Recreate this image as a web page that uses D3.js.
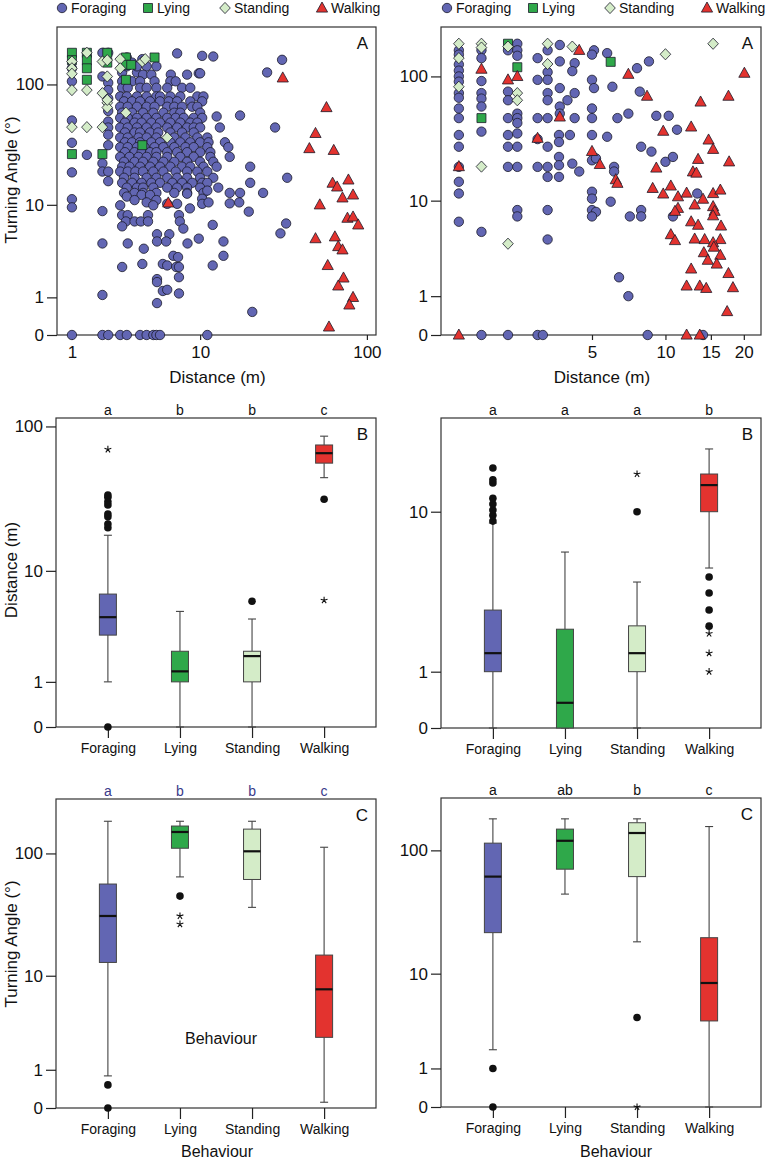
<!DOCTYPE html>
<html>
<head>
<meta charset="utf-8">
<script src="https://cdn.jsdelivr.net/npm/d3@7"></script>
<style>
  body { margin: 0; background: #fff; }
  svg { display: block; font-family: "Liberation Sans", Arial, sans-serif; }
</style>
</head>
<body>
<svg id="fig" width="766" height="1159"></svg>
<script>
// ── Data ─────────────────────────────────────────────────────────
const behaviours = ['Foraging', 'Lying', 'Standing', 'Walking'];

// Panel A (left): [distance m, turning angle deg]
const forageA1 = [
  [1,135],[1,106],[1,51],[1,33.5],[1,19],[1,11.2],[1,9.5],[1,0],[1.44,26.6],
  [2,180],[2.24,180],[2,116],[2.24,103],[2.24,90],[2.24,77],[2.24,61],[2.24,50],[2.24,44.7],[2.24,39],
  [2.24,32],[2,22.6],[2,19.3],[2.24,19.3],[2.24,16],[2,8.8],[2,4.4],[2,1.09],[2,0],[2.24,0],
  [3.15,165],[3.45,150],[4.1,160],[3.75,125],[2.9,125],[7.1,178],[10.3,170],[12.1,168],[31.7,158],[25.8,125],[9.8,123],
  [3.15,140],[3.75,140],[4.4,140],[5.15,140],
  [4.15,120],[4.75,120],[6.45,120],[8.25,120],[10,123],
  [2.9,106],[3.45,106],[3.95,106],[5,106],[6.4,106],[6.95,106],
  [2.9,94],[3.2,94],[3.95,94],[4.4,94],[5.15,94],[6.1,94],[7.65,94],[8.65,94],
  [2.8,80],[3.15,80],[3.75,80],[4.4,80],[5.15,80],[5.45,80],[6.4,80],[7.45,80],[9.6,80],[10.5,80],
  [3,73],[3.45,73],[3.95,73],[4.65,73],[5.45,73],[6.25,73],[7.1,73],[8.65,73],[10.3,73],
  [2.8,66],[3.2,66],[3.75,66],[4.4,66],[5,66],[6.1,66],[6.8,66],[7.65,66],[8.9,66],[9.6,66],
  [2.9,59],[3.45,59],[4.15,59],[4.9,59],[5.75,59],[6.8,59],[7.45,59],[10,59],[12.7,55],[17.7,56],
  [2.8,53.6],[3.2,53.6],[3.75,53.6],[4.4,53.6],[5.15,53.6],[6.1,53.6],[6.95,53.6],[7.85,53.6],[9.1,53.6],[10.3,53.6],
  [3.05,49],[3.6,49],[4.05,49],[4.75,49],[5.45,49],[6.4,49],[7.45,49],[8.65,49],[9.6,49],
  [2.8,44.7],[3.2,44.7],[3.75,44.7],[4.4,44.7],[5.15,44.7],[6.1,44.7],[7.1,44.7],[8.25,44.7],[9.1,44.7],[10,44.7],[13.3,44.7],[28.8,44.7],
  [3.05,40.7],[3.6,40.7],[3.95,40.7],[4.65,40.7],[5.3,40.7],[6.4,40.7],[7.65,40.7],[9.1,40.7],
  [2.8,37],[3.2,37],[3.85,37],[4.4,37],[5.15,37],[6.8,37],[8.05,37],[9.6,37],[11.1,37],
  [3.05,33.8],[3.45,33.8],[3.95,33.8],[4.75,33.8],[5.45,33.8],[6.4,33.8],[7.45,33.8],[8.65,33.8],[10,33.8],[11.3,33.8],[14.3,33.8],
  [2.8,30.8],[3.2,30.8],[3.75,30.8],[4.25,30.8],[5,30.8],[5.75,30.8],[6.8,30.8],[8.05,30.8],[9.1,30.8],[11.1,30.8],[15,30.8],
  [3.05,28],[3.6,28],[4.05,28],[4.65,28],[5.15,28],[6.1,28],[7.1,28],[8.25,28],[10,28],[11.6,28],
  [2.8,25.6],[3.3,25.6],[3.85,25.6],[4.4,25.6],[5.15,25.6],[6.1,25.6],[7.45,25.6],[9.1,25.6],[11.6,25.6],[15.3,25.6],
  [3,23.3],[3.6,23.3],[4.15,23.3],[4.9,23.3],[5.75,23.3],[6.8,23.3],[8.25,23.3],[10,23.3],[12.1,23.3],
  [2.9,21.2],[3.3,21.2],[3.95,21.2],[4.65,21.2],[5.45,21.2],[6.4,21.2],[7.65,21.2],[8.65,21.2],[10.5,21.2],[12.7,21.2],[20.4,21.2],
  [2.8,19.3],[3.2,19.3],[3.65,19.3],[4.15,19.3],[4.9,19.3],[5.75,19.3],[6.95,19.3],[8.25,19.3],[9.6,19.3],[11.1,19.3],
  [3,17.1],[3.6,17.1],[4.4,17.1],[5.15,17.1],[6.1,17.1],[7.1,17.1],[8.25,17.1],[10,17.1],[12.1,17.1],[34,17.1],
  [2.9,15.5],[3.45,15.5],[4.05,15.5],[4.75,15.5],[5.45,15.5],[6.6,15.5],[7.65,15.5],[8.9,15.5],[10.3,15.5],[11.1,15.5],[20.4,15.5],
  [3.15,14.1],[3.75,14.1],[4.15,14.1],[4.9,14.1],[6.1,14.1],[7.1,14.1],[8.25,14.1],[10,14.1],[13,14.1],
  [3,12.7],[3.6,12.7],[4.15,12.7],[5.15,12.7],[6.8,12.7],[8.25,12.7],[10.5,12.7],[15.3,12.7],[17.7,12.7],[24.4,12.7],
  [3.15,11.8],[4.05,12.2],[4.65,12.2],[8.25,12.5],[10.3,11.3],[11.1,13.3],
  [3.6,11],[5.15,11],[4.4,10.5],
  [2.8,9.9],[4.9,9.9],[6.1,10.2],[7.1,10.2],[10.3,10.2],[11.3,10.5],[15.3,10.3],[17.5,10.5],
  [2.9,8.1],[3.2,8.1],[4.5,8.1],[7.3,8.1],[8.6,9.3],[20,8.7],
  [3.1,7.1],[3.6,7.1],[4,7.1],[4.5,7.1],[2.9,6.4],[7.4,7.1],[7.8,6.1],[12,6.6],[33.5,6.8],[31,5.5],
  [5.2,5.4],[5.2,4.6],[6.3,5.4],[6,4.6],[9.8,4.9],[3.2,4.4],[8.3,4.4],[14,4.6],[4.2,3.9],
  [6.7,3.3],[7.2,3.2],[14,3.3],[4.1,2.7],[2.9,2.5],[5.7,2.7],[6.1,2.6],[7,2.5],[7.3,2.5],[12,2.6],
  [7.3,1.9],[5.2,1.8],[5.2,1.65],[5.7,1.25],[6.1,1.3],[7.3,1.15],[5.2,0.8],[21,0.53],
  [2.8,0],[3.15,0],[3.95,0],[4.4,0],[4.9,0],[5.15,0],[5.45,0],[11.1,0]
];
const lyingA1 = [
  [1,180],[1,157],[1.44,180],[1.44,157],[1.44,135],[1.44,109],[1,27],[2,27],
  [2.2,180],[2.2,150],[3.1,165],[3.1,144],[3.4,144],[4.1,32],[5,165],[3.1,109]
];
const standingA1 = [
  [1.44,180],[1,153],[1,135],[1,122],[1,90],[1.44,90],[2,153],[2.2,157],[2,85],[2.2,116],
  [2.2,71],[2.2,65],[2.8,160],[2.8,135],[3.1,59],[4.1,153],[4.3,160],[1,45],[1.44,45],[2,45],[6.1,37],[2.2,75]
];
const walkingA1 = [
  [32,113],[58,65],[50,40],[46,30],[64,29],[78,16.4],[63,15.4],[67,14.3],[83,12.2],[72,11.5],
  [53,10],[77,7.6],[83,7.8],[89,6.6],[50,4.9],[65,5.1],[68,4.1],[72,3.8],[59,2.6],[73,1.86],
  [68,1.47],[83,1.0],[79,0.74],[60,0.16],[6.2,10.4]
];

// Panel A (right)
const forageA2 = [
  [1,160],[1,148],[1,124],[1,111],[1,100],[1,91],[1,74],[1,68],[1,56],[1,47],[1,34.5],[1,27.8],[1,19.1],[1,14.4],[1,11.5],[1,6.55],
  [1.41,160],[1.41,139],[1.41,92],[1.41,74],[1.41,67],[1.41,58],[1.41,36.7],[1.41,5.3],[1.41,0],
  [2,160],[2,76],[2,65],[2,47],[2,34.5],[2,27.8],[2,19.1],[2,0],
  [2.24,180],[2.24,160],[2.24,145],[2.24,51],[2.24,47],[2.24,43],[2.24,35.5],[2.24,27.8],[2.24,19.1],[2.24,8.3],[2.24,7.3],
  [2.83,139],[2.83,94],[2.83,47],[2.83,32],[2.83,19.1],[2.83,0],
  [3.16,160],[3.16,108],[3.16,94],[3.16,74],[3.16,65],[3.16,47],[3.16,27.8],[3.16,19.1],[3.16,15.8],[3.16,8.3],[3.16,4.5],[3,0],
  [3.6,176],[3.6,131],[3.6,81],[3.6,58],[3.6,51],[3.57,34.5],[3.57,30.3],[3.57,23],[3.57,19.7],[3.57,15.8],
  [4.2,127],[4.1,110],[4.2,74],[3.9,65],[4.2,47],[4,34.5],[4.1,20.3],[4.4,17.5],
  [5.1,160],[5,148],[5,94],[5.1,81],[5,56],[5,47],[5,34.5],[5,21.6],[5.2,22.4],[5,11.9],[5,10.4],[5,8.3],[5.2,8],[5,7.3],
  [5.8,152],[5.8,33.4],[6,9.8],[6.1,83],[6.4,47],[6.2,19.1],[6.2,17.5],[6.5,1.8],
  [7.1,51],[7.1,1],[7.2,7.3],[7.7,116],[7.9,76],[8,27.8],[8,8.3],[8,7.3],[8.6,131],[8.8,25.4],[8.5,0],
  [9.2,49],[10.3,49],[10,21],[10.7,23],[10.7,7.3],[11.1,38],[13.3,11.5],[14,0]
];
const lyingA2 = [[2,180],[2.24,118],[1.41,47],[6,130]];
const standingA2 = [
  [1,180],[1,139],[1,83],[1.41,180],[1.41,168],[1.41,19.2],[2,171],[2.24,74],[2.24,65],
  [3.16,180],[3.16,125],[4.1,171],[2,4.1],[10,149],[15.3,180]
];
const walkingA2 = [
  [1,19.2],[1.41,114],[2,94],[2.24,100],[2.83,32.5],[3.6,48],[4.4,160],[5,25.5],[5.4,20],[6.3,15],
  [7.1,104],[8.45,70],[9.8,37],[9.2,18.7],[12.6,40],[13.7,63],[14.7,31.5],[15.3,26.5],[13.4,22],[12.8,17.4],
  [13.2,17],[17.6,21],[17.5,70],[20.1,106],
  [6.4,14],[8.9,12.7],[9.8,11.4],[10.5,13.3],[11.2,10.8],[12.1,11.6],[14,10.3],[15.3,11.5],[16.3,12.3],
  [11.2,8.6],[10.9,8.1],[13,9.2],[15.3,8.9],[15.5,8.1],[15.3,7.4],[12.6,6.55],[13.4,6.1],[16.4,6],
  [10.5,5],[10.9,4.4],[13,4.55],[14.2,4.5],[16.3,4.5],[15.3,4.2],[15.4,3.8],[14.1,3.35],[16.3,3.15],
  [14.6,2.8],[15.8,2.55],[12.6,2.25],[17.5,2],[12.1,1.4],[13.6,1.4],[14.4,1.3],[18.2,1.33],[17.3,0.52],
  [1,0],[12.1,0],[13.6,0]
];

// Box statistics per behaviour: [lower whisker, Q1, median, Q3, upper whisker]
const distBoxL = [[1,3.1,4.4,6.7,18],[0,1,1.35,2.2,4.9],[0,1,1.97,2.2,4.25],[45,56.5,66,75,86]];
const distBoxR = [[0,1,1.47,2.96,8.8],[0,0,0.38,2.22,6.28],[0,1,1.47,2.34,4.33],[5.17,10,13.4,15.1,19.7]];
const angleBoxL = [[0.79,13,31.5,57,180],[65,110,148,165,180],[37,62,104,156,180],[0.11,2.6,7.6,15,112]];
const angleBoxR = [[1.8,22,62,114,177],[45,71,119,147,177],[18.5,62,137,165,177],[0,3.7,8.3,20,154]];

// Outliers: [behaviour, value, 'dot' | 'star']
const distOutL = [
  ['Foraging',0,'dot'],['Foraging',20.3,'dot'],['Foraging',21.6,'dot'],['Foraging',24.2,'dot'],['Foraging',25.3,'dot'],
  ['Foraging',29.2,'dot'],['Foraging',30.8,'dot'],['Foraging',33,'dot'],['Foraging',34.2,'dot'],['Foraging',70,'star'],
  ['Standing',5.9,'dot'],['Walking',32,'dot'],['Walking',6,'star']
];
const distOutR = [
  ['Foraging',9,'dot'],['Foraging',9.6,'dot'],['Foraging',10.2,'dot'],['Foraging',10.9,'dot'],['Foraging',11.6,'dot'],
  ['Foraging',13.7,'dot'],['Foraging',14.2,'dot'],['Foraging',16.1,'dot'],
  ['Standing',10,'dot'],['Standing',15.1,'star'],
  ['Walking',4.62,'dot'],['Walking',3.75,'dot'],['Walking',2.96,'dot'],['Walking',2.33,'dot'],
  ['Walking',2.07,'star'],['Walking',1.47,'star'],['Walking',1,'star']
];
const angleOutL = [
  ['Foraging',0.52,'dot'],['Foraging',0,'dot'],['Lying',45.6,'dot'],['Lying',31.5,'star'],['Lying',27,'star']
];
const angleOutR = [
  ['Foraging',1,'dot'],['Foraging',0,'dot'],['Standing',4,'dot'],['Standing',0,'star']
];

const lettersDistL = ['a', 'b', 'b', 'c'];
const lettersDistR = ['a', 'a', 'a', 'b'];
const lettersAngleL = ['a', 'b', 'b', 'c'];
const lettersAngleR = ['a', 'ab', 'b', 'c'];

// ── Style ────────────────────────────────────────────────────────
const COLORS = { Foraging: '#6266b3', Lying: '#2fa84a', Standing: '#d4ecc8', Walking: '#e3332f' };
const MARK = {
  Foraging: d3.symbol(d3.symbolCircle, Math.PI * 4.7 * 4.7)(),
  Lying: 'M-4.5,-4.5H4.5V4.5H-4.5Z',
  Standing: 'M0,-5.6L5.3,0L0,5.6L-5.3,0Z',
  Walking: 'M0,-6L5.6,4.1H-5.6Z'
};
const FONT = '"Liberation Sans", Arial, sans-serif';

const svg = d3.select('#fig');

function logScale(domain, range, c = 1) {
  return d3.scaleSymlog().constant(c).domain(domain).range(range);
}

function frame(p) {
  svg.append('rect')
    .attr('x', p.x0).attr('y', p.y0)
    .attr('width', p.x1 - p.x0).attr('height', p.y1 - p.y0)
    .attr('fill', 'none').attr('stroke', '#333').attr('stroke-width', 1.2);
}

function styleAxis(g, size) {
  g.select('.domain').remove();
  g.selectAll('line').attr('stroke', '#222').attr('stroke-width', 1.2);
  g.selectAll('text').attr('font-size', size).attr('font-family', FONT).attr('fill', '#111');
}

function yAxis(p, y, ticks) {
  const g = svg.append('g').attr('transform', `translate(${p.x0},0)`)
    .call(d3.axisLeft(y).tickValues(ticks).tickSize(10).tickPadding(3).tickFormat(d3.format('d')));
  styleAxis(g, 17);
}

function panelLetter(p, t) {
  svg.append('text').attr('x', p.x1 - 8).attr('y', p.y0 + 22)
    .attr('text-anchor', 'end').attr('font-size', 17).attr('fill', '#111').text(t);
}

// rotated axis title; baseline kept far enough right to stay on the page
function yTitle(cy, t) {
  svg.append('text').attr('transform', `translate(16.5,${cy}) rotate(-90)`)
    .attr('text-anchor', 'middle').attr('font-size', 17).attr('fill', '#111').text(t);
}

function legend(x0) {
  const items = [['Foraging', 0], ['Lying', 86], ['Standing', 163], ['Walking', 260]];
  const g = svg.append('g').attr('transform', `translate(${x0},8)`);
  items.forEach(([b, dx]) => {
    g.append('path').attr('d', MARK[b]).attr('transform', `translate(${dx},0)`)
      .attr('fill', COLORS[b]).attr('stroke', '#1a1a2a').attr('stroke-width', 0.8);
    g.append('text').attr('x', dx + 9).attr('y', 5).attr('font-size', 14).attr('fill', '#111').text(b);
  });
}

// ── Scatter panels (A) ───────────────────────────────────────────
function scatter(p, x, y, sets, xTicks) {
  frame(p);
  yAxis(p, y, [0, 1, 10, 100]);
  const gx = svg.append('g').attr('transform', `translate(0,${p.y1})`)
    .call(d3.axisBottom(x).tickValues(xTicks).tickSize(5).tickPadding(6).tickFormat(d3.format('d')));
  styleAxis(gx, 17);

  sets.forEach(([b, pts]) => {
    svg.append('g').selectAll('path')
      .data(pts)
      .enter()
      .append('path')
      .attr('d', MARK[b])
      .attr('transform', d => `translate(${x(d[0])},${y(d[1])})`)
      .attr('fill', COLORS[b])
      .attr('stroke', '#1a1a2a')
      .attr('stroke-width', 0.8);
  });

  svg.append('text').attr('x', (p.x0 + p.x1) / 2 + 1).attr('y', p.y1 + 48)
    .attr('text-anchor', 'middle').attr('font-size', 17).attr('fill', '#111').text('Distance (m)');
  panelLetter(p, 'A');
}

// ── Box panels (B, C) ────────────────────────────────────────────
function starPath(r) {
  let d = '';
  for (let k = 0; k < 5; k++) {
    const a = (-90 + k * 72) * Math.PI / 180;
    d += `M0,0L${(r * Math.cos(a)).toFixed(2)},${(r * Math.sin(a)).toFixed(2)}`;
  }
  return d;
}

function boxPanel(p, y, yTicks, stats, outliers, letters, letterColor, tag) {
  const x = d3.scalePoint().domain(behaviours).range([p.x0, p.x1]).padding(0.72);
  frame(p);
  yAxis(p, y, yTicks);
  const gx = svg.append('g').attr('transform', `translate(0,${p.y1})`)
    .call(d3.axisBottom(x).tickSize(11).tickPadding(5));
  styleAxis(gx, 14);

  const g = svg.append('g');
  stats.forEach((s, i) => {
    const b = behaviours[i];
    const cx = x(b);
    const [lo, q1, med, q3, hi] = s;
    g.append('line').attr('x1', cx).attr('x2', cx).attr('y1', y(lo)).attr('y2', y(q1))
      .attr('stroke', '#444').attr('stroke-width', 1.1);
    g.append('line').attr('x1', cx).attr('x2', cx).attr('y1', y(q3)).attr('y2', y(hi))
      .attr('stroke', '#444').attr('stroke-width', 1.1);
    [lo, hi].forEach(v => {
      g.append('line').attr('x1', cx - 4).attr('x2', cx + 4).attr('y1', y(v)).attr('y2', y(v))
        .attr('stroke', '#444').attr('stroke-width', 1.1);
    });
    g.append('rect').attr('x', cx - 8.5).attr('width', 17)
      .attr('y', y(q3)).attr('height', Math.max(0, y(q1) - y(q3)))
      .attr('fill', COLORS[b]).attr('stroke', '#444').attr('stroke-width', 1);
    g.append('line').attr('x1', cx - 8.5).attr('x2', cx + 8.5).attr('y1', y(med)).attr('y2', y(med))
      .attr('stroke', '#111').attr('stroke-width', 2.2);
  });

  outliers.forEach(([b, v, kind]) => {
    if (kind === 'dot') {
      g.append('circle').attr('cx', x(b)).attr('cy', y(v)).attr('r', 3.8).attr('fill', '#111');
    } else {
      g.append('path').attr('d', starPath(3.6))
        .attr('transform', `translate(${x(b)},${y(v)})`)
        .attr('stroke', '#111').attr('stroke-width', 1.1).attr('fill', 'none');
    }
  });

  letters.forEach((t, i) => {
    svg.append('text').attr('x', x(behaviours[i])).attr('y', p.y0 - 3)
      .attr('text-anchor', 'middle').attr('font-size', 14).attr('fill', letterColor).text(t);
  });
  panelLetter(p, tag);
}

// ── Layout ───────────────────────────────────────────────────────
const pA1 = { x0: 57, x1: 376, y0: 27, y1: 335 };
const pA2 = { x0: 441, x1: 761, y0: 27, y1: 335 };
const pB1 = { x0: 56, x1: 376, y0: 418, y1: 727 };
const pB2 = { x0: 441, x1: 761, y0: 418, y1: 728 };
const pC1 = { x0: 56, x1: 376, y0: 799, y1: 1108 };
const pC2 = { x0: 441, x1: 761, y0: 798, y1: 1107 };

legend(62);
legend(447);

scatter(pA1,
  logScale([0.64, 113], [pA1.x0, pA1.x1]),
  logScale([0, 290], [pA1.y1, pA1.y0]),
  [['Foraging', forageA1], ['Lying', lyingA1], ['Standing', standingA1], ['Walking', walkingA1]],
  [1, 10, 100]);
scatter(pA2,
  logScale([0.726, 23.2], [pA2.x0, pA2.x1]),
  logScale([0, 243], [pA2.y1, pA2.y0]),
  [['Foraging', forageA2], ['Lying', lyingA2], ['Standing', standingA2], ['Walking', walkingA2]],
  [5, 10, 15, 20]);
yTitle(180, 'Turning Angle (°)');

boxPanel(pB1, logScale([0, 114], [pB1.y1, pB1.y0]), [0, 1, 10, 100],
  distBoxL, distOutL, lettersDistL, '#111', 'B');
boxPanel(pB2, logScale([0, 27.2], [pB2.y1, pB2.y0], 1.35), [0, 1, 10],
  distBoxR, distOutR, lettersDistR, '#111', 'B');
yTitle(570, 'Distance (m)');

boxPanel(pC1, logScale([0, 270], [pC1.y1, pC1.y0]), [0, 1, 10, 100],
  angleBoxL, angleOutL, lettersAngleL, '#3a3a8a', 'C');
boxPanel(pC2, logScale([0, 258], [pC2.y1, pC2.y0]), [0, 1, 10, 100],
  angleBoxR, angleOutR, lettersAngleR, '#111', 'C');
yTitle(944, 'Turning Angle (°)');

svg.append('text').attr('x', 221).attr('y', 1044).attr('text-anchor', 'middle')
  .attr('font-size', 16).attr('fill', '#111').text('Behaviour');
svg.append('text').attr('x', 217).attr('y', 1157).attr('text-anchor', 'middle')
  .attr('font-size', 16).attr('fill', '#111').text('Behaviour');
svg.append('text').attr('x', 616).attr('y', 1157).attr('text-anchor', 'middle')
  .attr('font-size', 16).attr('fill', '#111').text('Behaviour');
</script>
</body>
</html>
